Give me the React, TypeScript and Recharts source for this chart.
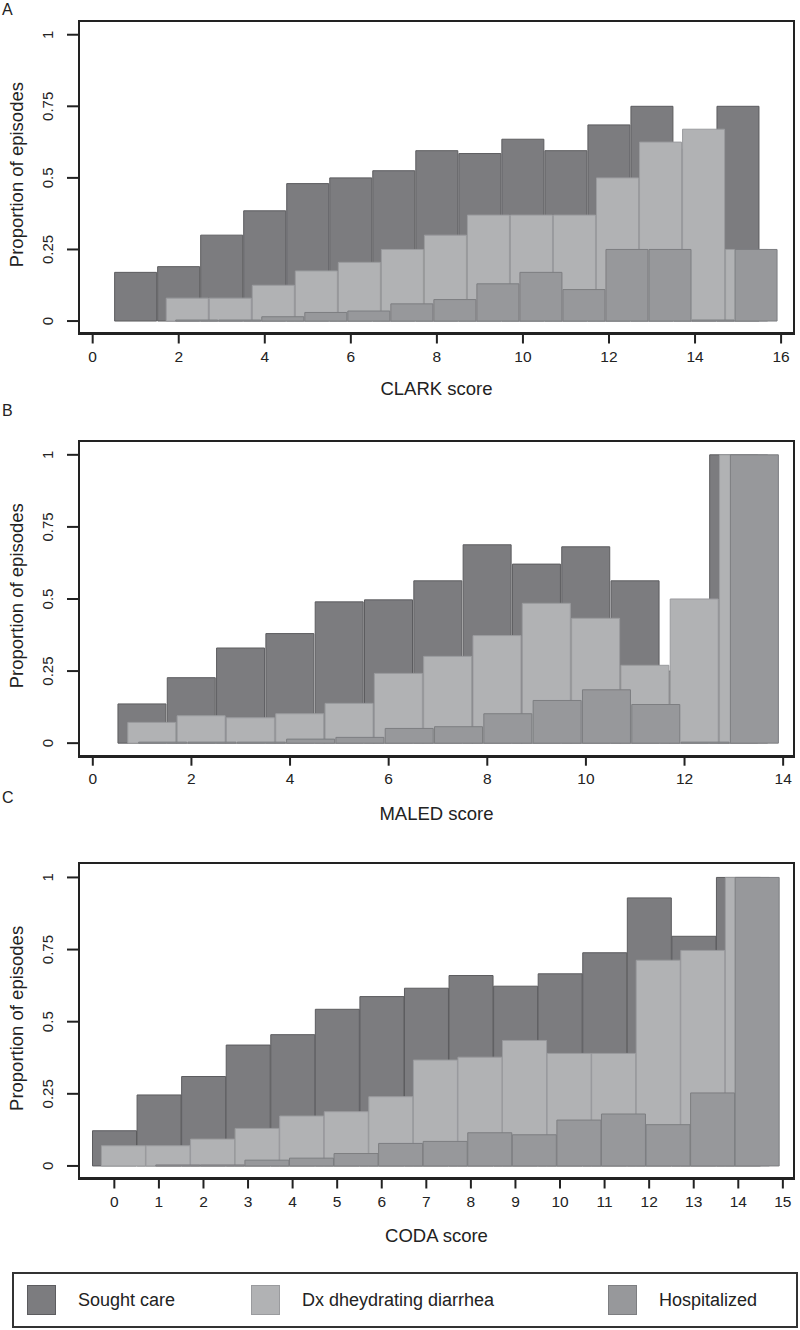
import React from "react";
import { ComposedChart, Bar, XAxis, YAxis } from "recharts";

// ---- data ----
const clarkScores = [1, 2, 3, 4, 5, 6, 7, 8, 9, 10, 11, 12, 13, 14, 15];
const clarkSought = [0.17, 0.19, 0.3, 0.385, 0.48, 0.5, 0.525, 0.595, 0.585, 0.635, 0.595, 0.685, 0.75, 0.6, 0.75];
const clarkDx = [null, 0.08, 0.08, 0.125, 0.175, 0.205, 0.25, 0.3, 0.37, 0.37, 0.37, 0.5, 0.625, 0.67, 0.25];
const clarkHosp = [null, 0, 0, 0.015, 0.03, 0.035, 0.06, 0.075, 0.13, 0.17, 0.11, 0.25, 0.25, 0, 0.25];

const maledScores = [1, 2, 3, 4, 5, 6, 7, 8, 9, 10, 11, 12, 13];
const maledSought = [0.136, 0.227, 0.33, 0.38, 0.49, 0.497, 0.563, 0.688, 0.621, 0.681, 0.563, 0.25, 1.0];
const maledDx = [0.072, 0.095, 0.088, 0.102, 0.138, 0.242, 0.301, 0.373, 0.485, 0.433, 0.27, 0.5, 1.0];
const maledHosp = [0, 0, 0, 0.014, 0.02, 0.051, 0.057, 0.102, 0.148, 0.185, 0.134, 0, 1.0];

const codaScores = [0, 1, 2, 3, 4, 5, 6, 7, 8, 9, 10, 11, 12, 13, 14];
const codaSought = [0.122, 0.246, 0.31, 0.419, 0.455, 0.543, 0.587, 0.616, 0.66, 0.623, 0.666, 0.739, 0.929, 0.796, 1.0];
const codaDx = [0.07, 0.07, 0.093, 0.13, 0.173, 0.188, 0.24, 0.367, 0.377, 0.435, 0.39, 0.39, 0.713, 0.747, 1.0];
const codaHosp = [null, 0, 0, 0.02, 0.027, 0.043, 0.078, 0.085, 0.115, 0.108, 0.159, 0.18, 0.143, 0.253, 1.0];

const clarkTicks = [0, 2, 4, 6, 8, 10, 12, 14, 16];
const maledTicks = [0, 2, 4, 6, 8, 10, 12, 14];
const codaTicks = [0, 1, 2, 3, 4, 5, 6, 7, 8, 9, 10, 11, 12, 13, 14, 15];
const yTicks = [0, 0.25, 0.5, 0.75, 1];

const seriesNames = ["Sought care", "Dx dheydrating diarrhea", "Hospitalized"];

// ---- styles ----
const FONT = "'Liberation Sans', Arial, Helvetica, sans-serif";
const INK = "#222";
const COLORS = {
  sought: { fill: "#7c7c7f", stroke: "#5c5c5f" },
  dx: { fill: "#b1b2b4", stroke: "#9a9b9e" },
  hosp: { fill: "#97989b", stroke: "#7d7e81" },
};
const DX_SHIFT = 0.2;
const HOSP_SHIFT = 0.42;
const PLOT_LEFT = 79;
const PLOT_RIGHT = 794;
const Y_DOMAIN: [number, number] = [-0.047, 1.049];

const buildRows = (scores: number[], sought: any[], dx: any[], hosp: any[]) =>
  scores.map((s, i) => ({ score: s, sought: sought[i], dx: dx[i], hosp: hosp[i] }));

const YTick = ({ x, y, payload }: any) => {
  const cx = x - 17;
  return (
    <text x={cx} y={y} transform={`rotate(-90, ${cx}, ${y})`} textAnchor="middle" dominantBaseline="central"
      fill={INK} fontSize={15} fontFamily={FONT}>
      {String(payload.value)}
    </text>
  );
};

const YLabel = ({ viewBox }: any) => {
  const cx = 17;
  const cy = viewBox.y + viewBox.height / 2 - 3;
  return (
    <text x={cx} y={cy} transform={`rotate(-90, ${cx}, ${cy})`} textAnchor="middle" dominantBaseline="central"
      fill={INK} fontSize={18.5} fontFamily={FONT}>
      Proportion of episodes
    </text>
  );
};

interface PanelProps {
  top: number;
  height: number;
  plotTop: number;
  plotBottom: number;
  xDomain: [number, number];
  xTicks: number[];
  xLabel: string;
  xAxisHeight: number;
  rows: any[];
}

const Panel = ({ top, height, plotTop, plotBottom, xDomain, xTicks, xLabel, xAxisHeight, rows }: PanelProps) => {
  const mt = plotTop - top;
  const mb = top + height - plotBottom - xAxisHeight;
  const shift = (d: number): [number, number] => [xDomain[0] - d, xDomain[1] - d];
  return (
    <div style={{ position: "absolute", left: 0, top, width: 800, height }}>
      <ComposedChart width={800} height={height} data={rows} barCategoryGap="1%" barGap={0}
        margin={{ top: mt, right: 800 - PLOT_RIGHT, bottom: mb, left: 0 }}>
        <XAxis xAxisId="main" dataKey="score" type="number" domain={xDomain} ticks={xTicks} interval={0}
          allowDataOverflow height={xAxisHeight} axisLine={false} tickSize={9} tickMargin={7}
          tickLine={{ stroke: INK, strokeWidth: 2 }} tick={{ fill: INK, fontSize: 15.5, fontFamily: FONT }}
          label={{ value: xLabel, position: "insideBottom", offset: 0, fill: INK, fontSize: 18.5, fontFamily: FONT }} />
        <XAxis xAxisId="dx" dataKey="score" type="number" domain={shift(DX_SHIFT)} allowDataOverflow hide height={0} />
        <XAxis xAxisId="hosp" dataKey="score" type="number" domain={shift(HOSP_SHIFT)} allowDataOverflow hide height={0} />
        <YAxis domain={Y_DOMAIN} ticks={yTicks} interval={0} allowDataOverflow width={PLOT_LEFT}
          axisLine={false} tickSize={12} tickMargin={2} tickLine={{ stroke: INK, strokeWidth: 2 }}
          tick={<YTick />} label={<YLabel />} />
        <Bar xAxisId="main" dataKey="sought" name={seriesNames[0]} fill={COLORS.sought.fill}
          stroke={COLORS.sought.stroke} strokeWidth={1} isAnimationActive={false} />
        <Bar xAxisId="dx" dataKey="dx" name={seriesNames[1]} fill={COLORS.dx.fill}
          stroke={COLORS.dx.stroke} strokeWidth={1} isAnimationActive={false} />
        <Bar xAxisId="hosp" dataKey="hosp" name={seriesNames[2]} fill={COLORS.hosp.fill}
          stroke={COLORS.hosp.stroke} strokeWidth={1} isAnimationActive={false}
          minPointSize={(v: any) => (v === 0 ? 1 : 0)} />
      </ComposedChart>
      <div style={{
        position: "absolute", left: PLOT_LEFT - 1, top: plotTop - top - 1, width: PLOT_RIGHT - PLOT_LEFT + 2,
        height: plotBottom - plotTop + 2, border: `2px solid ${INK}`, borderBottomWidth: 3,
        boxSizing: "border-box", pointerEvents: "none",
      }} />
    </div>
  );
};

const Letter = ({ text, top }: { text: string; top: number }) => (
  <div style={{ position: "absolute", left: 2, top, fontFamily: FONT, fontSize: 16, lineHeight: 1, color: INK }}>{text}</div>
);

const legendSwatches = [COLORS.sought.fill, COLORS.dx.fill, COLORS.hosp.fill];
const legendStrokes = [COLORS.sought.stroke, COLORS.dx.stroke, COLORS.hosp.stroke];
const legendSwatchX = [27, 251, 608];

const Legend = () => (
  <div style={{
    position: "absolute", left: 12, top: 1272, width: 786, height: 56, border: `2px solid #333`,
    boxSizing: "border-box", fontFamily: FONT,
  }}>
    {seriesNames.map((n, i) => (
      <React.Fragment key={n}>
        <div style={{
          position: "absolute", left: legendSwatchX[i] - 14, top: 11, width: 29, height: 30,
          background: legendSwatches[i], border: `1px solid ${legendStrokes[i]}`, boxSizing: "border-box",
        }} />
        <div style={{ position: "absolute", left: legendSwatchX[i] - 14 + 51, top: 16, fontSize: 18, lineHeight: "20px", color: INK }}>{n}</div>
      </React.Fragment>
    ))}
  </div>
);

export default function App() {
  return (
    <div style={{ position: "absolute", left: 0, top: 0, width: 800, height: 1330, background: "#fff", overflow: "hidden" }}>
      <Letter text="A" top={2} />
      <Panel top={0} height={408} plotTop={20.7} plotBottom={334.5} xDomain={[-0.318, 16.3]} xTicks={clarkTicks}
        xLabel="CLARK score" xAxisHeight={60} rows={buildRows(clarkScores, clarkSought, clarkDx, clarkHosp)} />
      <Letter text="B" top={403} />
      <Panel top={410} height={420} plotTop={440.7} plotBottom={756.7} xDomain={[-0.28, 14.22]} xTicks={maledTicks}
        xLabel="MALED score" xAxisHeight={63} rows={buildRows(maledScores, maledSought, maledDx, maledHosp)} />
      <Letter text="C" top={790} />
      <Panel top={836} height={414} plotTop={863.3} plotBottom={1179.5} xDomain={[-0.793, 15.25]} xTicks={codaTicks}
        xLabel="CODA score" xAxisHeight={62} rows={buildRows(codaScores, codaSought, codaDx, codaHosp)} />
      <Legend />
    </div>
  );
}
